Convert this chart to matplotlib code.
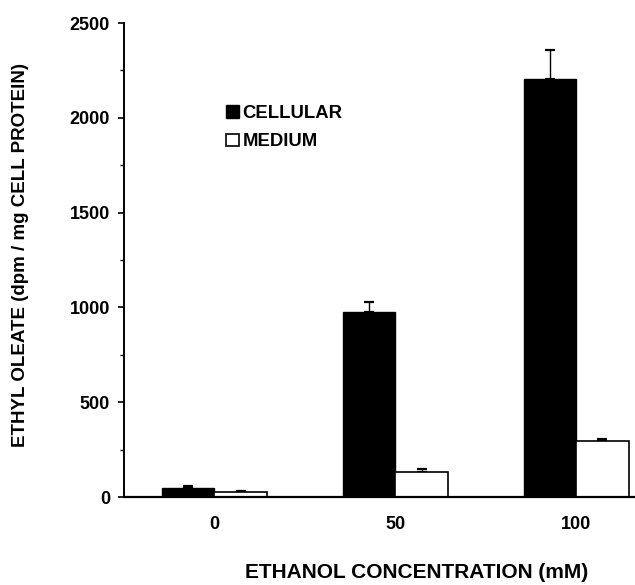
import matplotlib
matplotlib.use("Agg")
import matplotlib.pyplot as plt
import numpy as np
from matplotlib.ticker import MultipleLocator

# ---- data ----
categories = ["0", "50", "100"]
cellular = [49, 977, 2205]
cellular_err = [11, 51, 151]
medium = [28, 130, 296]
medium_err = [2, 18, 9]
series_labels = ["CELLULAR", "MEDIUM"]
x_title = "ETHANOL CONCENTRATION (mM)"
y_title = "ETHYL OLEATE (dpm / mg CELL PROTEIN)"

plt.rcParams['font.family'] = ['Liberation Sans', 'DejaVu Sans']
plt.rcParams['font.weight'] = 'bold'

W, H = 635, 585
fig = plt.figure(figsize=(W / 100, H / 100), dpi=100)
ax = fig.add_axes([124 / W, 88 / H, 511 / W, 474 / H])

x = np.arange(len(categories))
bw = 0.29
b1 = ax.bar(x - bw / 2, cellular, bw, color='black', edgecolor='black',
            linewidth=1.0, label=series_labels[0], zorder=2)
b2 = ax.bar(x + bw / 2, medium, bw, color='white', edgecolor='black',
            linewidth=1.2, label=series_labels[1], zorder=2)
ax.errorbar(x - bw / 2, cellular, yerr=[np.zeros(len(x)), cellular_err],
            fmt='none', ecolor='black', elinewidth=1.0, capsize=3.3,
            capthick=1.6, zorder=1)
ax.errorbar(x + bw / 2, medium, yerr=[np.zeros(len(x)), medium_err],
            fmt='none', ecolor='black', elinewidth=1.0, capsize=3.3,
            capthick=1.6, zorder=1)

ax.set_xlim(-0.5, 2.325)
ax.set_ylim(0, 2500)
ax.set_xticks(x)
ax.set_xticklabels(categories)
ax.yaxis.set_major_locator(MultipleLocator(500))
ax.yaxis.set_minor_locator(MultipleLocator(250))
ax.tick_params(axis='x', length=0, pad=14, labelsize=13)
ax.tick_params(axis='y', which='major', length=4.5, width=1.2, pad=5.5,
               labelsize=13, direction='out')
ax.tick_params(axis='y', which='minor', length=3, width=1.0, direction='out')
for lbl in ax.get_xticklabels() + ax.get_yticklabels():
    lbl.set_fontweight('bold')

for s in ['top', 'right']:
    ax.spines[s].set_visible(False)
ax.spines['left'].set_linewidth(1.4)
ax.spines['bottom'].set_linewidth(1.6)

fig.text(417 / W, 1 - 572 / H, x_title, ha='center', va='center',
         fontsize=15, fontweight='bold')
fig.text(21 / W, 1 - 255 / H, y_title, ha='center', va='center',
         rotation=90, fontsize=13.5, fontweight='bold')

leg = ax.legend(handles=[b1, b2], loc='upper left',
                bbox_to_anchor=(226 / W, 1 - 105 / H),
                bbox_transform=fig.transFigure, frameon=False,
                borderpad=0, borderaxespad=0, handlelength=0.7,
                handleheight=0.7, handletextpad=0.2, labelspacing=0.62,
                prop={'size': 13.3, 'weight': 'bold'})

fig.savefig("out.png", dpi=100)
